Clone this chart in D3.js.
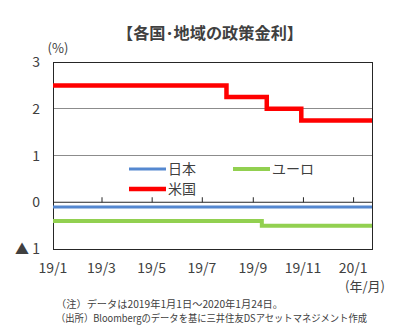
<!DOCTYPE html>
<html><head><meta charset="utf-8">
<script src="https://cdn.jsdelivr.net/npm/d3@7"></script>
<style>
html,body{margin:0;padding:0;background:#fff;}
text{font-family:"Noto Sans CJK JP","Noto Sans",sans-serif;fill:#404040;}
</style></head>
<body><svg id="c" width="410" height="334"></svg>
<script>
const title = "【各国･地域の政策金利】";
const seriesNames = ["日本", "ユーロ", "米国"];
const seriesColors = ["#5588d0", "#92d050", "#ff0000"];
const japanDates = ["2019-01-01", "2020-01-24"];
const japanValues = [-0.1, -0.1];
const euroDates = ["2019-01-01", "2019-09-12", "2020-01-24"];
const euroValues = [-0.4, -0.5, -0.5];
const usDates = ["2019-01-01", "2019-07-31", "2019-09-18", "2019-10-30", "2020-01-24"];
const usValues = [2.5, 2.25, 2.0, 1.75, 1.75];
const yTicks = [3, 2, 1, 0, -1];
const yTickLabels = ["3", "2", "1", "0", "▲ 1"];
const xTickDates = ["2019-01-01", "2019-03-01", "2019-05-01", "2019-07-01", "2019-09-01", "2019-11-01", "2020-01-01"];
const xTickLabels = ["19/1", "19/3", "19/5", "19/7", "19/9", "19/11", "20/1"];
const notes = ["（注）データは2019年1月1日～2020年1月24日。", "（出所）Bloombergのデータを基に三井住友DSアセットマネジメント作成"];

const parse = d3.utcParse("%Y-%m-%d");
const svg = d3.select("#c");
const L = 53, R = 372, T = 62, B = 249;
const x = d3.scaleUtc().domain([parse("2019-01-01"), parse("2020-01-24")]).range([L, R]);
const y = d3.scaleLinear().domain([-1, 3]).range([B, T]);

// title
svg.append("text").attr("x", 210).attr("y", 39).attr("text-anchor", "middle")
  .attr("font-size", 16).attr("font-weight", "bold").attr("fill", "#333")
  .attr("textLength", 186).attr("lengthAdjust", "spacingAndGlyphs").text(title);

// gridlines
svg.append("g").selectAll("line").data([1, 2]).join("line")
  .attr("x1", L).attr("x2", R).attr("y1", d => y(d)).attr("y2", d => y(d))
  .attr("stroke", "#8c8c8c").attr("stroke-width", 1).attr("shape-rendering", "crispEdges");

// frame
svg.append("rect").attr("x", L).attr("y", T).attr("width", R - L).attr("height", B - T)
  .attr("fill", "none").attr("stroke", "#262626").attr("stroke-width", 1).attr("shape-rendering", "crispEdges");

// zero line with ticks
const xAxis = d3.axisTop(x).tickValues(xTickDates.map(parse).slice(1)).tickSize(5).tickFormat("");
const gx = svg.append("g").attr("transform", `translate(0,${y(0)})`).call(xAxis);
gx.select(".domain").attr("stroke", "#262626").attr("d", `M${L},0H${R}`);
gx.selectAll(".tick line").attr("stroke", "#262626");

// y labels
svg.append("g").selectAll("text").data(yTicks).join("text")
  .attr("x", 40).attr("y", d => y(d) + 5).attr("text-anchor", "end").attr("font-size", 14)
  .text((d, i) => yTickLabels[i]);
svg.append("text").attr("x", 58).attr("y", 53).attr("text-anchor", "middle").attr("font-size", 13).text("(%)");

// x labels
svg.append("g").selectAll("text").data(xTickDates).join("text")
  .attr("x", d => x(parse(d))).attr("y", 273).attr("text-anchor", "middle").attr("font-size", 14)
  .text((d, i) => xTickLabels[i]);
svg.append("text").attr("x", 365).attr("y", 291).attr("text-anchor", "middle").attr("font-size", 13).text("(年/月)");

// lines
const line = d3.line().x(d => x(d.date)).y(d => y(d.v)).curve(d3.curveStepAfter);
const mk = (ds, vs) => ds.map((d, i) => ({date: parse(d), v: vs[i]}));
const series = [
  {data: mk(japanDates, japanValues), color: seriesColors[0], w: 3},
  {data: mk(euroDates, euroValues), color: seriesColors[1], w: 4},
  {data: mk(usDates, usValues), color: seriesColors[2], w: 4.5}
];
svg.append("g").selectAll("path").data(series).join("path")
  .attr("d", d => line(d.data)).attr("fill", "none")
  .attr("stroke", d => d.color).attr("stroke-width", d => d.w);

// legend
const leg = [
  {x: 129, y: 169, i: 0, w: 3},
  {x: 233, y: 169, i: 1, w: 4},
  {x: 129, y: 189, i: 2, w: 4.5}
];
const lg = svg.append("g").selectAll("g").data(leg).join("g");
lg.append("line").attr("x1", d => d.x).attr("x2", d => d.x + 37).attr("y1", d => d.y).attr("y2", d => d.y)
  .attr("stroke", d => seriesColors[d.i]).attr("stroke-width", d => d.w);
lg.append("text").attr("x", d => d.x + 39).attr("y", d => d.y + 5).attr("font-size", 14).attr("fill", "#111")
  .text(d => seriesNames[d.i]);

// notes
svg.append("text").attr("x", 56).attr("y", 308).attr("font-size", 10).attr("fill", "#222")
  .attr("textLength", 227).attr("lengthAdjust", "spacingAndGlyphs").text(notes[0]);
svg.append("text").attr("x", 56).attr("y", 322).attr("font-size", 10).attr("fill", "#222")
  .attr("textLength", 311).attr("lengthAdjust", "spacingAndGlyphs").text(notes[1]);
</script></body></html>
